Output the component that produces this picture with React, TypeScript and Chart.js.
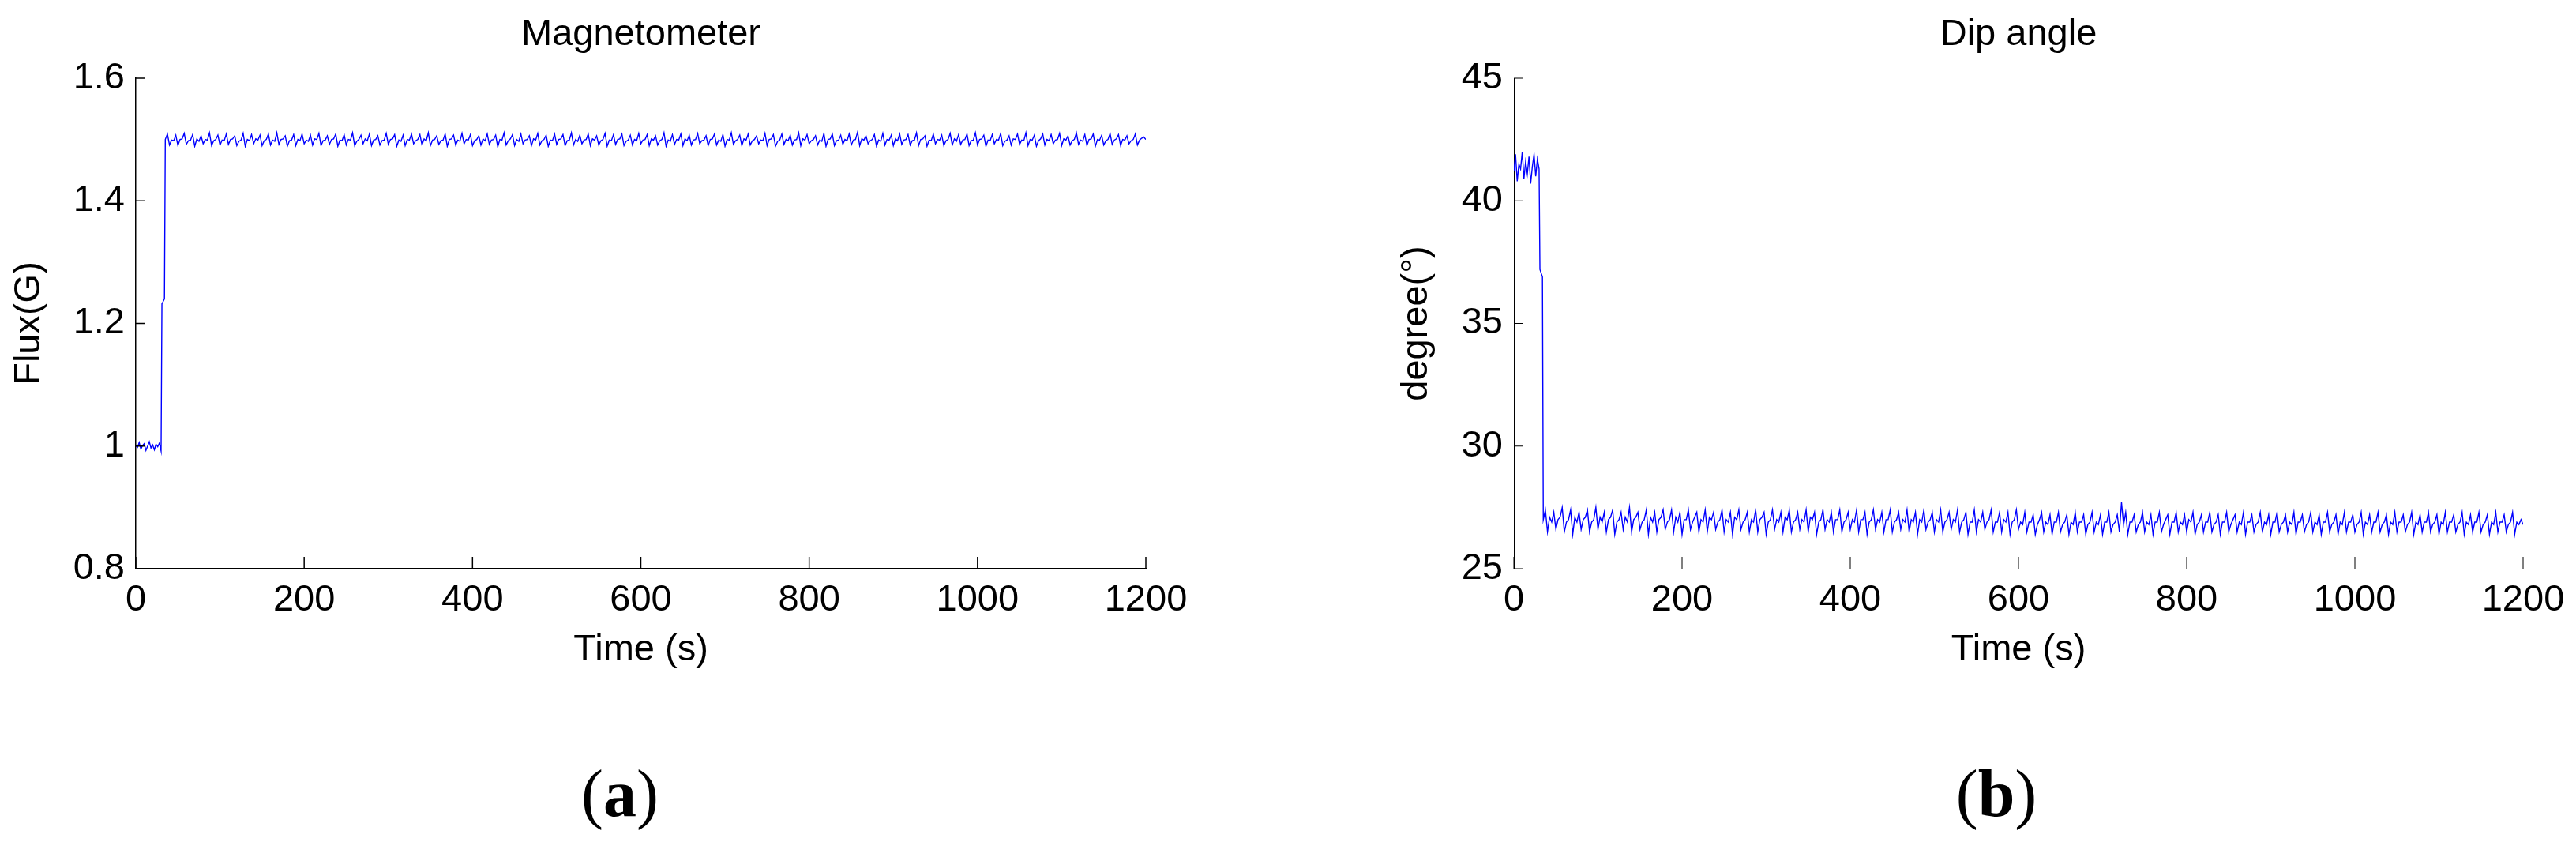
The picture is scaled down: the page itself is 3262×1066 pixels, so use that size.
import React, { useEffect, useRef } from "react";
import { Chart, registerables } from "chart.js";

Chart.register(...registerables);

const FONT = '"Liberation Sans", Arial, Helvetica, sans-serif';

// ---- tick values / labels ----
const timeTicks = [0, 200, 400, 600, 800, 1000, 1200];
const timeTickLabels = ["0", "200", "400", "600", "800", "1000", "1200"];
const fluxTicks = [0.8, 1.0, 1.2, 1.4, 1.6];
const fluxTickLabels = ["0.8", "1", "1.2", "1.4", "1.6"];
const dipTicks = [25, 30, 35, 40, 45];
const dipTickLabels = ["25", "30", "35", "40", "45"];

// ---- data: start segment (explicit times, s) ----
const startTimes = [0, 2, 4, 6, 8, 10, 12, 14, 16, 18, 20, 22, 24, 26, 28, 30, 31, 34];
const fluxStartValues = [
  1.0, 0.998, 1.006, 0.995, 1.001, 1.004, 0.993, 1.0, 1.007, 0.997, 1.002, 0.994, 1.003, 0.999, 1.005, 0.992,
  1.232, 1.24,
];
const dipStartValues = [
  41.2, 41.9, 40.8, 41.5, 41.3, 42.0, 40.9, 41.6, 41.1, 41.8, 40.7, 41.4, 41.9, 41.0, 41.7, 41.3,
  37.2, 36.9,
];

// ---- data: main segment, one sample every MAIN_STEP seconds from MAIN_START ----
const MAIN_START = 35;
const MAIN_STEP = 2.5;
const fluxMainValues = [
  1.500, 1.509, 1.491, 1.499, 1.498, 1.507, 1.490, 1.500, 1.501, 1.510,
  1.492, 1.498, 1.499, 1.508, 1.489, 1.501, 1.497, 1.506, 1.493, 1.500,
  1.499, 1.511, 1.490, 1.498, 1.500, 1.507, 1.491, 1.499, 1.498, 1.509,
  1.492, 1.500, 1.501, 1.506, 1.490, 1.497, 1.499, 1.510, 1.489, 1.500,
  1.498, 1.508, 1.493, 1.501, 1.499, 1.507, 1.490, 1.498, 1.500, 1.509,
  1.491, 1.499, 1.497, 1.511, 1.492, 1.500, 1.501, 1.506, 1.489, 1.498,
  1.499, 1.508, 1.490, 1.500, 1.498, 1.509, 1.493, 1.499, 1.497, 1.507,
  1.491, 1.501, 1.500, 1.510, 1.490, 1.498, 1.499, 1.506, 1.492, 1.500,
  1.501, 1.509, 1.489, 1.499, 1.498, 1.508, 1.491, 1.500, 1.499, 1.511,
  1.490, 1.497, 1.500, 1.507, 1.493, 1.501, 1.498, 1.509, 1.490, 1.499,
  1.500, 1.506, 1.491, 1.498, 1.499, 1.510, 1.492, 1.500, 1.501, 1.508,
  1.489, 1.499, 1.497, 1.507, 1.490, 1.500, 1.499, 1.509, 1.493, 1.498,
  1.500, 1.508, 1.491, 1.501, 1.498, 1.511, 1.490, 1.499, 1.500, 1.506,
  1.492, 1.498, 1.499, 1.509, 1.489, 1.500, 1.501, 1.507, 1.491, 1.499,
  1.497, 1.510, 1.493, 1.500, 1.499, 1.508, 1.490, 1.498, 1.500, 1.506,
  1.491, 1.501, 1.498, 1.509, 1.492, 1.499, 1.500, 1.507, 1.488, 1.500,
  1.499, 1.511, 1.491, 1.498, 1.501, 1.508, 1.490, 1.500, 1.497, 1.509,
  1.493, 1.499, 1.500, 1.506, 1.490, 1.501, 1.499, 1.510, 1.491, 1.498,
  1.500, 1.507, 1.489, 1.499, 1.498, 1.509, 1.492, 1.500, 1.501, 1.508,
  1.490, 1.498, 1.499, 1.511, 1.491, 1.500, 1.497, 1.507, 1.493, 1.499,
  1.500, 1.509, 1.490, 1.501, 1.499, 1.506, 1.491, 1.498, 1.500, 1.510,
  1.489, 1.499, 1.498, 1.508, 1.492, 1.500, 1.501, 1.509, 1.490, 1.497,
  1.499, 1.507, 1.491, 1.500, 1.498, 1.510, 1.493, 1.499, 1.500, 1.508,
  1.490, 1.501, 1.499, 1.506, 1.491, 1.498, 1.500, 1.511, 1.489, 1.499,
  1.497, 1.508, 1.492, 1.500, 1.499, 1.509, 1.490, 1.501, 1.498, 1.507,
  1.491, 1.499, 1.500, 1.510, 1.493, 1.498, 1.499, 1.506, 1.490, 1.500,
  1.501, 1.509, 1.491, 1.499, 1.497, 1.508, 1.489, 1.500, 1.499, 1.511,
  1.492, 1.498, 1.500, 1.507, 1.490, 1.501, 1.499, 1.509, 1.491, 1.498,
  1.500, 1.506, 1.493, 1.499, 1.498, 1.510, 1.490, 1.500, 1.501, 1.508,
  1.489, 1.497, 1.499, 1.509, 1.492, 1.500, 1.498, 1.507, 1.491, 1.499,
  1.500, 1.511, 1.490, 1.501, 1.499, 1.508, 1.493, 1.498, 1.500, 1.506,
  1.491, 1.499, 1.497, 1.510, 1.489, 1.500, 1.501, 1.509, 1.490, 1.498,
  1.499, 1.507, 1.492, 1.500, 1.498, 1.509, 1.491, 1.499, 1.500, 1.512,
  1.490, 1.501, 1.499, 1.506, 1.493, 1.498, 1.500, 1.508, 1.489, 1.499,
  1.497, 1.510, 1.491, 1.500, 1.499, 1.507, 1.490, 1.501, 1.498, 1.509,
  1.492, 1.499, 1.500, 1.508, 1.491, 1.498, 1.499, 1.511, 1.490, 1.500,
  1.501, 1.506, 1.489, 1.499, 1.498, 1.509, 1.493, 1.500, 1.499, 1.507,
  1.490, 1.498, 1.500, 1.510, 1.491, 1.501, 1.497, 1.508, 1.492, 1.499,
  1.500, 1.509, 1.490, 1.498, 1.499, 1.511, 1.491, 1.500, 1.501, 1.507,
  1.489, 1.499, 1.498, 1.508, 1.493, 1.500, 1.499, 1.510, 1.490, 1.497,
  1.499, 1.506, 1.491, 1.501, 1.500, 1.509, 1.492, 1.499, 1.498, 1.511,
  1.490, 1.500, 1.499, 1.507, 1.489, 1.498, 1.501, 1.509, 1.491, 1.500,
  1.498, 1.508, 1.493, 1.499, 1.500, 1.510, 1.490, 1.501, 1.499, 1.506,
  1.491, 1.498, 1.500, 1.511, 1.492, 1.499, 1.497, 1.508, 1.490, 1.500,
  1.501, 1.509, 1.489, 1.500, 1.499, 1.507, 1.491, 1.498, 1.500, 1.510,
  1.492, 1.499, 1.501, 1.508, 1.490, 1.500, 1.499, 1.506, 1.493, 1.498,
  1.500, 1.509, 1.491, 1.499, 1.502, 1.504, 1.500,
];
const dipMainValues = [
  27.0, 27.4, 26.5, 27.1, 26.9, 27.3, 26.6, 27.0, 27.1, 27.5,
  26.5, 26.9, 27.0, 27.4, 26.4, 27.1, 26.9, 27.3, 26.6, 27.0,
  27.1, 27.4, 26.5, 26.9, 27.0, 27.5, 26.6, 27.1, 26.9, 27.3,
  26.5, 27.0, 27.1, 27.4, 26.4, 26.9, 27.0, 27.3, 26.6, 27.1,
  26.9, 27.5, 26.5, 27.0, 27.1, 27.3, 26.6, 26.9, 27.0, 27.4,
  26.4, 27.1, 26.9, 27.3, 26.5, 27.0, 27.1, 27.4, 26.6, 26.9,
  27.0, 27.4, 26.5, 27.1, 26.9, 27.3, 26.4, 27.0, 27.0, 27.4,
  26.6, 26.9, 27.1, 27.3, 26.5, 27.0, 26.9, 27.4, 26.5, 27.1,
  27.0, 27.3, 26.6, 26.9, 27.0, 27.4, 26.5, 27.0, 26.9, 27.3,
  26.4, 27.1, 27.0, 27.4, 26.6, 26.9, 27.0, 27.3, 26.5, 27.0,
  26.9, 27.4, 26.5, 27.0, 27.1, 27.3, 26.4, 26.9, 27.0, 27.4,
  26.6, 27.0, 26.9, 27.3, 26.5, 27.1, 27.0, 27.4, 26.5, 26.9,
  27.0, 27.3, 26.6, 27.0, 26.9, 27.4, 26.5, 27.1, 27.0, 27.3,
  26.4, 26.9, 27.0, 27.4, 26.6, 27.0, 26.9, 27.3, 26.5, 27.0,
  27.0, 27.4, 26.5, 26.9, 27.0, 27.3, 26.6, 27.0, 26.9, 27.4,
  26.5, 27.0, 27.0, 27.3, 26.4, 26.9, 27.0, 27.4, 26.6, 27.0,
  26.9, 27.3, 26.5, 27.0, 27.0, 27.4, 26.5, 26.9, 27.0, 27.3,
  26.6, 27.0, 26.9, 27.4, 26.5, 27.0, 26.9, 27.3, 26.4, 27.0,
  26.9, 27.4, 26.6, 26.9, 27.0, 27.3, 26.5, 27.0, 26.9, 27.4,
  26.5, 26.9, 27.0, 27.3, 26.6, 27.0, 26.9, 27.4, 26.5, 26.9,
  27.0, 27.3, 26.4, 26.9, 26.9, 27.4, 26.5, 27.0, 26.9, 27.3,
  26.6, 26.9, 27.0, 27.4, 26.5, 26.9, 26.9, 27.3, 26.5, 27.0,
  26.9, 27.3, 26.4, 26.9, 27.0, 27.4, 26.6, 26.9, 26.8, 27.3,
  26.5, 26.9, 26.9, 27.2, 26.4, 26.8, 27.0, 27.3, 26.5, 26.9,
  26.8, 27.2, 26.4, 26.9, 26.9, 27.3, 26.5, 26.8, 26.9, 27.2,
  26.4, 26.9, 26.8, 27.3, 26.5, 26.9, 26.9, 27.2, 26.4, 26.8,
  26.9, 27.3, 26.5, 26.9, 26.8, 27.2, 26.4, 26.9, 26.9, 27.3,
  26.5, 26.8, 26.9, 27.2, 26.5, 27.7, 26.8, 27.3, 26.4, 26.9,
  26.9, 27.2, 26.5, 26.8, 26.9, 27.3, 26.5, 26.9, 26.8, 27.2,
  26.4, 26.9, 26.9, 27.3, 26.5, 26.8, 27.0, 27.2, 26.4, 26.9,
  26.9, 27.3, 26.5, 26.9, 26.8, 27.2, 26.5, 27.0, 26.9, 27.3,
  26.4, 26.8, 26.9, 27.2, 26.5, 26.9, 26.9, 27.3, 26.5, 26.8,
  26.9, 27.2, 26.4, 26.9, 26.9, 27.3, 26.5, 26.8, 27.0, 27.2,
  26.5, 26.9, 26.8, 27.3, 26.4, 26.9, 26.9, 27.2, 26.5, 26.8,
  26.9, 27.3, 26.5, 26.9, 26.8, 27.2, 26.4, 26.9, 26.9, 27.3,
  26.5, 26.8, 26.9, 27.2, 26.5, 26.9, 26.8, 27.3, 26.4, 26.9,
  26.9, 27.2, 26.5, 26.8, 26.9, 27.3, 26.5, 26.9, 26.8, 27.2,
  26.4, 26.9, 26.9, 27.3, 26.5, 26.8, 26.9, 27.2, 26.4, 26.9,
  26.8, 27.3, 26.5, 26.9, 26.9, 27.2, 26.5, 26.8, 26.9, 27.3,
  26.4, 26.9, 26.8, 27.2, 26.5, 26.9, 26.9, 27.3, 26.5, 26.8,
  26.9, 27.2, 26.4, 26.9, 26.8, 27.3, 26.5, 26.9, 26.9, 27.2,
  26.5, 26.8, 26.9, 27.3, 26.4, 26.9, 26.8, 27.2, 26.5, 26.9,
  26.9, 27.3, 26.5, 26.8, 26.9, 27.2, 26.4, 26.9, 26.8, 27.3,
  26.5, 26.9, 26.9, 27.2, 26.5, 26.8, 26.9, 27.3, 26.4, 26.9,
  26.8, 27.2, 26.5, 26.9, 26.9, 27.3, 26.5, 26.8, 26.9, 27.2,
  26.4, 26.9, 26.8, 27.3, 26.5, 26.9, 26.9, 27.2, 26.5, 26.8,
  26.9, 27.3, 26.4, 26.9, 26.8, 27.0, 26.8,
];

function buildSeries(startValues: number[], mainValues: number[]) {
  const pts = startTimes.map((t, i) => ({ x: t, y: startValues[i] }));
  mainValues.forEach((v, i) => pts.push({ x: MAIN_START + i * MAIN_STEP, y: v }));
  return pts;
}

const inwardTicks = {
  id: "inwardTicks",
  afterDatasetsDraw(chart: any, _args: any, opts: any) {
    const { ctx, chartArea } = chart;
    const xs = chart.scales.x;
    const ys = chart.scales.y;
    ctx.save();
    ctx.strokeStyle = "#000";
    ctx.lineWidth = opts.width || 1;
    xs.ticks.forEach((t: any) => {
      const px = xs.getPixelForValue(t.value);
      ctx.beginPath();
      ctx.moveTo(px, chartArea.bottom);
      ctx.lineTo(px, chartArea.bottom - opts.xLen);
      ctx.stroke();
    });
    ys.ticks.forEach((t: any) => {
      const py = ys.getPixelForValue(t.value);
      ctx.beginPath();
      ctx.moveTo(chartArea.left, py);
      ctx.lineTo(chartArea.left + opts.yLen, py);
      ctx.stroke();
    });
    ctx.restore();
  },
};

type PanelProps = {
  left: number;
  width: number;
  height: number;
  areaLeft: number;
  areaRight: number;
  areaBottom: number;
  title: string;
  yTitle: string;
  yTitlePad: number;
  yMin: number;
  yMax: number;
  yTicks: number[];
  yLabels: string[];
  data: { x: number; y: number }[];
  axisWidth: number;
};

function Panel(p: PanelProps) {
  const ref = useRef<HTMLCanvasElement | null>(null);
  useEffect(() => {
    if (!ref.current) return;
    const font = { family: FONT, size: 47, weight: "normal" as const, lineHeight: 1.2 };
    const chart = new Chart(ref.current, {
      type: "line",
      data: {
        datasets: [
          {
            data: p.data,
            borderColor: "#0000ff",
            borderWidth: 1.4,
            pointRadius: 0,
            tension: 0,
            fill: false,
          },
        ],
      },
      options: {
        animation: false,
        responsive: false,
        devicePixelRatio: 1,
        layout: { padding: { left: 0, right: p.width - p.areaRight, top: 0, bottom: 0 } },
        plugins: {
          legend: { display: false },
          tooltip: { enabled: false },
          title: {
            display: true,
            text: p.title,
            fullSize: false,
            color: "#000",
            font,
            padding: { top: 15.5, bottom: 27.1 },
          },
          inwardTicks: { width: p.axisWidth, xLen: 15, yLen: 12 },
        } as any,
        scales: {
          x: {
            type: "linear",
            min: 0,
            max: 1200,
            afterBuildTicks: (s: any) => {
              s.ticks = timeTicks.map((v) => ({ value: v }));
            },
            afterFit: (s: any) => {
              s.height = p.height - p.areaBottom;
            },
            grid: { display: false, drawTicks: false },
            border: { display: true, color: "#000", width: p.axisWidth },
            ticks: {
              padding: 12,
              color: "#000",
              font,
              maxRotation: 0,
              autoSkip: false,
              callback: (_v: any, i: number) => timeTickLabels[i],
            },
            title: {
              display: true,
              text: "Time (s)",
              color: "#000",
              font,
              padding: { top: 0, bottom: 29 },
            },
          },
          y: {
            type: "linear",
            min: p.yMin,
            max: p.yMax,
            afterBuildTicks: (s: any) => {
              s.ticks = p.yTicks.map((v) => ({ value: v }));
            },
            afterFit: (s: any) => {
              s.width = p.areaLeft;
            },
            grid: { display: false, drawTicks: false },
            border: { display: true, color: "#000", width: p.axisWidth },
            ticks: {
              padding: 14,
              color: "#000",
              font,
              callback: (_v: any, i: number) => p.yLabels[i],
            },
            title: {
              display: true,
              text: p.yTitle,
              color: "#000",
              font,
              padding: { top: p.yTitlePad, bottom: 0 },
            },
          },
        },
      } as any,
      plugins: [inwardTicks],
    });
    return () => chart.destroy();
  }, []);
  return (
    <div style={{ position: "absolute", left: p.left, top: 0, width: p.width, height: p.height }}>
      <canvas ref={ref} width={p.width} height={p.height} style={{ display: "block" }} />
    </div>
  );
}

const labelStyle: React.CSSProperties = {
  position: "absolute",
  top: 963,
  transform: "translateX(-50%)",
  fontFamily: '"Liberation Serif", "Times New Roman", serif',
  fontSize: 84,
  lineHeight: "84px",
  color: "#000",
  whiteSpace: "nowrap",
};

export default function App() {
  return (
    <div style={{ position: "absolute", left: 0, top: 0, width: 3262, height: 1066, background: "#fff" }}>
      <Panel
        left={0}
        width={1620}
        height={880}
        areaLeft={172}
        areaRight={1451}
        areaBottom={720}
        title="Magnetometer"
        yTitle="Flux(G)"
        yTitlePad={9}
        yMin={0.8}
        yMax={1.6}
        yTicks={fluxTicks}
        yLabels={fluxTickLabels}
        data={buildSeries(fluxStartValues, fluxMainValues)}
        axisWidth={1.5}
      />
      <Panel
        left={1640}
        width={1622}
        height={880}
        areaLeft={277}
        areaRight={1555}
        areaBottom={720}
        title="Dip angle"
        yTitle="degree(°)"
        yTitlePad={126}
        yMin={25}
        yMax={45}
        yTicks={dipTicks}
        yLabels={dipTickLabels}
        data={buildSeries(dipStartValues, dipMainValues)}
        axisWidth={1}
      />
      <div style={{ ...labelStyle, left: 785 }}>
        (<b>a</b>)
      </div>
      <div style={{ ...labelStyle, left: 2528 }}>
        (<b>b</b>)
      </div>
    </div>
  );
}
